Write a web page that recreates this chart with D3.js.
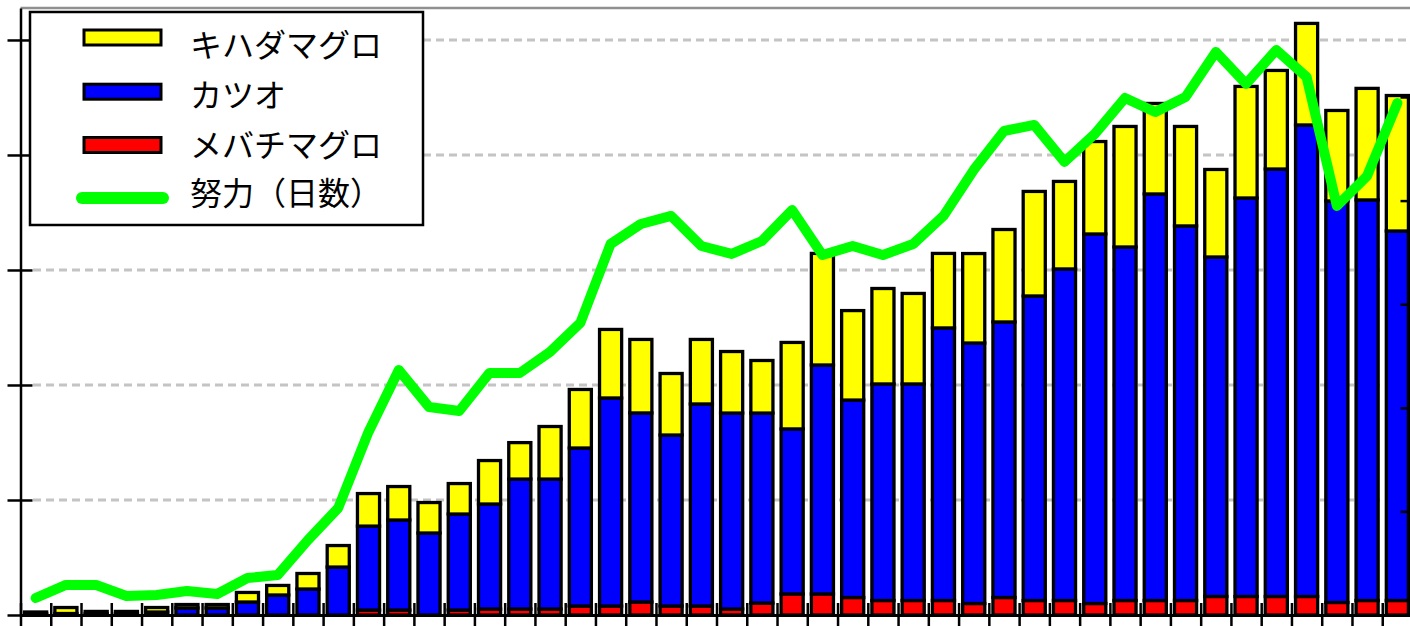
<!DOCTYPE html>
<html><head><meta charset="utf-8">
<script src="https://cdn.jsdelivr.net/npm/d3@7"></script>
<style>html,body{margin:0;padding:0;background:#fff;overflow:hidden}</style>
</head><body><svg id="c" width="1410" height="626"></svg>
<script>
// ---- data ----
const categories = ["1","2","3","4","5","6","7","8","9","10","11","12","13","14","15","16","17","18","19","20","21","22","23","24","25","26","27","28","29","30","31","32","33","34","35","36","37","38","39","40","41","42","43","44","45","46"];
const seriesNames = ["キハダマグロ", "カツオ", "メバチマグロ"];
const effortName = "努力（日数）";
const yellowfin = [1.7,5.2,2.2,2.2,3.9,3.0,3.0,8.3,8.3,13.5,18.7,28.3,29.1,26.5,26.5,37.8,31.7,45.7,50.9,59.6,63.9,53.5,56.1,53.5,45.7,75.2,97.0,77.8,83.0,78.7,64.8,77.8,80.4,90.9,76.1,80.4,104.8,78.7,86.5,76.1,97.0,85.7,88.3,78.7,97.0,117.8];
const skipjack = [0.9,1.3,0.9,0.9,2.6,6.1,6.1,11.3,17.4,22.6,41.7,73.0,78.3,71.3,83.5,91.3,113.0,113.0,137.4,180.9,164.4,148.7,175.7,170.4,165.2,143.5,199.1,171.7,188.3,188.3,237.0,226.5,239.6,264.8,288.3,321.3,307.4,353.5,325.7,295.2,346.5,371.7,410.0,349.1,348.3,321.3];
const bigeye = [0,0,0,0,0,0,0,0,0,0,0,4.3,4.3,0,4.3,5.2,5.2,5.2,7.8,7.8,11.3,7.8,7.8,5.2,10.4,18.3,18.3,15.2,12.6,12.6,12.6,10.0,15.2,12.6,12.6,10.0,12.6,12.6,12.6,16.1,16.1,16.1,16.1,10.9,12.6,12.6];
const effortDays = [164,290,290,183,193,232,203,357,386,724,1033,1767,2365,2008,1969,2336,2336,2539,2819,3581,3774,3852,3562,3485,3610,3909,3475,3562,3475,3581,3852,4296,4672,4730,4373,4643,4991,4855,5000,5435,5126,5454,5193,3948,4238,4942];
const leftTicks = [0,100,200,300,400,500];
const rightTicks = [0,1000,2000,3000,4000,5000];

// ---- layout ----
const plot = {left:20.5, right:1412.5, top:8, bottom:615};
const colYellow = "#ffff00", colBlue = "#0000ff", colRed = "#ff0000", colGreen = "#00ff00";
const svg = d3.select("#c");

const x = d3.scaleBand().domain(categories).range([plot.left, plot.right]).padding(0);
const xEdge = d3.scaleLinear().domain([0, categories.length]).range([plot.left, plot.right]);
const yL = d3.scaleLinear().domain([0, 527.8]).range([plot.bottom, plot.top]);
const yR = d3.scaleLinear().domain([0, 5859]).range([plot.bottom, plot.top]);

// grid
svg.append("g").selectAll("line").data(leftTicks.filter(t => t > 0)).join("line")
  .attr("x1", 33).attr("x2", plot.right)
  .attr("y1", d => yL(d)).attr("y2", d => yL(d))
  .attr("stroke", "#c4c4c4").attr("stroke-width", 3).attr("stroke-dasharray", "8,5");

// top frame line
svg.append("line").attr("x1", plot.left).attr("x2", plot.right)
  .attr("y1", plot.top).attr("y2", plot.top)
  .attr("stroke", "#909090").attr("stroke-width", 2.5);

// bottom axis
const gx = svg.append("g").attr("transform", `translate(0,${plot.bottom})`)
  .call(d3.axisBottom(xEdge).tickValues(d3.range(categories.length + 1)).tickSize(12).tickSizeOuter(0).tickFormat(""));
gx.selectAll(".tick line").attr("y1", -12).attr("y2", 12).attr("stroke", "#000").attr("stroke-width", 2.5);
gx.select(".domain").attr("stroke", "#000").attr("stroke-width", 3);

// bars
const table = categories.map((c, i) => ({cat: c, bigeye: bigeye[i], skipjack: skipjack[i], yellowfin: yellowfin[i]}));
const stacked = d3.stack().keys(["bigeye", "skipjack", "yellowfin"])(table);
const fills = {bigeye: colRed, skipjack: colBlue, yellowfin: colYellow};
const bw = x.bandwidth(), barW = bw * 0.73;
svg.append("g").selectAll("g").data(stacked).join("g")
  .attr("fill", s => fills[s.key])
  .selectAll("rect").data(s => s.filter(d => d[1] - d[0] > 0)).join("rect")
  .attr("x", d => x(d.data.cat) + (bw - barW) / 2)
  .attr("width", barW)
  .attr("y", d => yL(d[1]))
  .attr("height", d => yL(d[0]) - yL(d[1]))
  .attr("stroke", "#000").attr("stroke-width", 3.3);

// left axis
const gl = svg.append("g").attr("transform", `translate(${plot.left},0)`)
  .call(d3.axisLeft(yL).tickValues(leftTicks).tickSize(13).tickSizeOuter(0).tickFormat(""));
gl.selectAll(".tick line").attr("x1", 12).attr("x2", -13).attr("stroke", "#000").attr("stroke-width", 2.5);
gl.select(".domain").attr("stroke", "#000").attr("stroke-width", 2.5);

// right axis
const gr = svg.append("g").attr("transform", `translate(${plot.right},0)`)
  .call(d3.axisRight(yR).tickValues(rightTicks).tickSize(12).tickSizeOuter(0).tickFormat(""));
gr.selectAll(".tick line").attr("x1", -12).attr("x2", 12).attr("stroke", "#000").attr("stroke-width", 2.5);
gr.select(".domain").attr("stroke", "#000").attr("stroke-width", 2.5);

// effort line
const line = d3.line().x((d, i) => x(categories[i]) + bw / 2).y(d => yR(d));
svg.append("path").datum(effortDays).attr("d", line)
  .attr("fill", "none").attr("stroke", colGreen).attr("stroke-width", 10)
  .attr("stroke-linejoin", "round").attr("stroke-linecap", "round");

// legend
const lg = svg.append("g");
lg.append("rect").attr("x", 30).attr("y", 12).attr("width", 393).attr("height", 213)
  .attr("fill", "#fff").attr("stroke", "#000").attr("stroke-width", 2.5);
const swatchY = [37.5, 91.7, 145];
const swatchCols = [colYellow, colBlue, colRed];
lg.selectAll("rect.sw").data(swatchCols).join("rect").attr("class", "sw")
  .attr("x", 84).attr("width", 77).attr("y", (d, i) => swatchY[i] - 7.5).attr("height", 15)
  .attr("fill", d => d).attr("stroke", "#000").attr("stroke-width", 3);
lg.append("line").attr("x1", 82).attr("x2", 163).attr("y1", 198).attr("y2", 198)
  .attr("stroke", colGreen).attr("stroke-width", 12).attr("stroke-linecap", "round");
const legendLabels = seriesNames.concat([effortName]);
const textY = [43.3, 93.3, 143.3, 190.8];
lg.selectAll("text").data(legendLabels).join("text")
  .attr("x", 190).attr("y", (d, i) => textY[i])
  .attr("dominant-baseline", "central")
  .attr("font-family", "'Noto Sans CJK JP', sans-serif").attr("font-size", 32)
  .attr("fill", "#000").text(d => d);
</script></body></html>
